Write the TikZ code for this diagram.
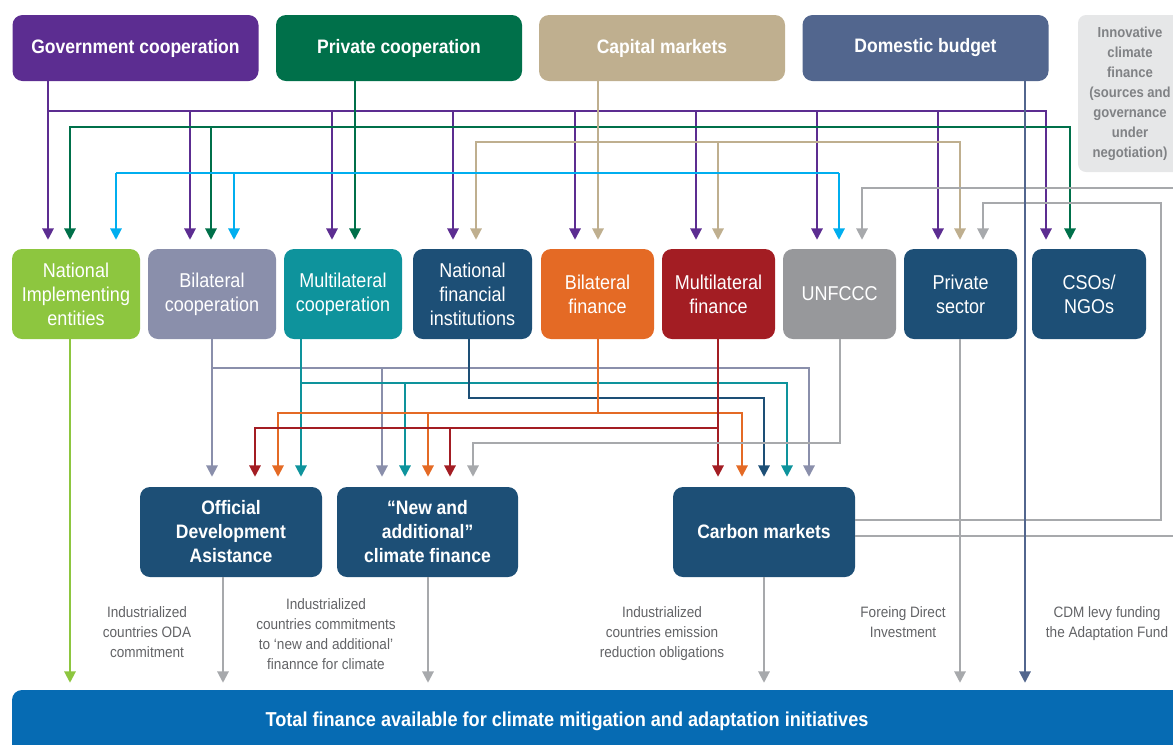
\documentclass[tikz,border=0pt]{standalone}
\usepackage{fontspec}
\setmainfont{Liberation Sans}[FakeStretch=0.9]
\usetikzlibrary{arrows.meta}
\definecolor{cPurp}{HTML}{5C2D91}
\definecolor{cGreen}{HTML}{00704A}
\definecolor{cTan}{HTML}{BFAF8F}
\definecolor{cSlate}{HTML}{52668E}
\definecolor{cInnF}{HTML}{E6E7E8}
\definecolor{cInnT}{HTML}{808285}
\definecolor{cLGreen}{HTML}{8DC63F}
\definecolor{cBGray}{HTML}{8A8FAB}
\definecolor{cTeal}{HTML}{0E939C}
\definecolor{cDBlue}{HTML}{1D4F76}
\definecolor{cOrange}{HTML}{E46A25}
\definecolor{cRed}{HTML}{A31D23}
\definecolor{cUn}{HTML}{97989B}
\definecolor{cGrayL}{HTML}{A7A9AC}
\definecolor{cCyan}{HTML}{00AEEF}
\definecolor{cBar}{HTML}{066BB3}
\definecolor{cLbl}{HTML}{626366}
\tikzset{
 bx/.style={rectangle, rounded corners=7.5pt, inner sep=0pt, text=white, align=center},
 hdr/.style={bx, minimum width=246*0.75pt, minimum height=66*0.75pt, font=\fontsize{14.6pt}{18pt}\selectfont\bfseries},
 midbox/.style={bx, minimum height=90*0.75pt, font=\fontsize{15pt}{18pt}\selectfont},
 lowbox/.style={bx, minimum width=182*0.75pt, minimum height=90*0.75pt, font=\fontsize{14.6pt}{18pt}\selectfont\bfseries},
 lbl/.style={text=cLbl, align=center, inner sep=0pt, font=\fontsize{11.3pt}{15pt}\selectfont},
 ln/.style={line width=1.5pt},
 arrowhd/.style={-{Triangle[width=8.5pt,length=8.5pt]}},
 ta/.style={ln,arrowhd,shorten >=6.75pt},
 ma/.style={ln,arrowhd,shorten >=7.5pt},
 ba/.style={ln,arrowhd,shorten >=5.25pt},
}
\begin{document}
\begin{tikzpicture}[x=0.75pt,y=-0.75pt]
\useasboundingbox (0,0) rectangle (1173,744);
% top row
\node[hdr, fill=cPurp] (gov) at (135.5,48) {Government cooperation};
\node[hdr, fill=cGreen] (pcoop) at (399,48) {Private cooperation};
\node[hdr, fill=cTan] (cap) at (662,48) {Capital markets};
\node[hdr, fill=cSlate] (dom) at (925.5,48) {Domestic budget};
\node[bx, fill=cInnF, text=cInnT, minimum width=104*0.75pt, minimum height=157*0.75pt, rounded corners=6pt, font=\fontsize{10.9pt}{15pt}\selectfont\bfseries] (innov) at (1130,93.5) {Innovative\\climate\\finance\\(sources and\\governance\\under\\negotiation)};
% middle row
\node[midbox, fill=cLGreen, minimum width=128*0.75pt] (nie) at (76,294) {National\\Implementing\\entities};
\node[midbox, fill=cBGray, minimum width=128*0.75pt] (bcoop) at (212,294) {Bilateral\\cooperation};
\node[midbox, fill=cTeal, minimum width=118*0.75pt] (mcoop) at (343,294) {Multilateral\\cooperation};
\node[midbox, fill=cDBlue, minimum width=119*0.75pt] (nfi) at (472.5,294) {National\\financial\\institutions};
\node[midbox, fill=cOrange, minimum width=113*0.75pt] (bfin) at (597.5,294) {Bilateral\\finance};
\node[midbox, fill=cRed, minimum width=113*0.75pt] (mfin) at (718.5,294) {Multilateral\\finance};
\node[midbox, fill=cUn, minimum width=113*0.75pt] (unfccc) at (839.5,294) {UNFCCC};
\node[midbox, fill=cDBlue, minimum width=113*0.75pt] (priv) at (960.5,294) {Private\\sector};
\node[midbox, fill=cDBlue, minimum width=114*0.75pt] (cso) at (1089,294) {CSOs/\\NGOs};
% lower row
\node[lowbox, fill=cDBlue] (oda) at (231,532) {Official\\Development\\Asistance};
\node[lowbox, fill=cDBlue, minimum width=181*0.75pt] (nac) at (427.5,532) {“New and\\additional”\\climate finance};
\node[lowbox, fill=cDBlue] (carbon) at (764,532) {Carbon markets};
% bar
\node[rectangle, rounded corners=7.5pt, fill=cBar, minimum width=1178*0.75pt, minimum height=70*0.75pt, inner sep=0pt] (bar) at (601,725) {};
\node[text=white, inner sep=0pt, font=\fontsize{15.1pt}{18pt}\selectfont\bfseries] (bartxt) at (567,721) {Total finance available for climate mitigation and adaptation initiatives};
% labels
\node[lbl] (l1) at (147,632) {Industrialized\\countries ODA\\commitment};
\node[lbl] (l2) at (326,634) {Industrialized\\countries commitments\\to ‘new and additional’\\finannce for climate};
\node[lbl] (l3) at (662,634) {Industrialized\\countries emission\\reduction obligations};
\node[lbl] (l4) at (903,622) {Foreing Direct\\Investment};
\node[lbl] (l5) at (1107,624) {CDM levy funding\\the Adaptation Fund};
% top connectors
\draw[ta,cPurp] (48,0 |- gov.south) -- (48,0 |- nie.north);
\foreach \x/\t in {190/bcoop,332/mcoop,453/nfi,575/bfin,696/mfin,817/unfccc,938/priv,1046/cso}
  \draw[ta,cPurp] (48,0 |- gov.south) |- (\x,111) -- (\x,0 |- \t.north);
\draw[ta,cGreen] (355,0 |- pcoop.south) -- (355,0 |- mcoop.north);
\foreach \x/\t in {70/nie,211/bcoop,1070/cso}
  \draw[ta,cGreen] (355,0 |- pcoop.south) |- (\x,127) -- (\x,0 |- \t.north);
\draw[ta,cTan] (598,0 |- cap.south) -- (598,0 |- bfin.north);
\foreach \x/\t in {476/nfi,718/mfin,960/priv}
  \draw[ta,cTan] (598,0 |- cap.south) |- (\x,142) -- (\x,0 |- \t.north);
\coordinate (cyA) at (116,173);
\coordinate (cyB) at (839,173);
\draw[ln,cCyan] (cyA) -- (cyB);
\draw[ta,cCyan] (cyA) -- (116,0 |- nie.north);
\draw[ta,cCyan] (234,0 |- cyA) -- (234,0 |- bcoop.north);
\draw[ta,cCyan] (cyB) -- (839,0 |- unfccc.north);
\coordinate (edgeA) at (1190,188);
\draw[ta,cGrayL] (edgeA) -| (862,0 |- unfccc.north);
\draw[ta,cGrayL] (carbon.east |- 0,520) -- (1161,520) |- (983,203) -- (983,0 |- priv.north);
\coordinate (edgeB) at (1190,536);
\draw[ln,cGrayL] (carbon.east |- 0,536) -- (edgeB);
\draw[ba,cSlate] (1025,0 |- dom.south) -- (1025,0 |- bar.north);
% middle connectors
\draw[ma,cBGray] (212,0 |- bcoop.south) -- (212,0 |- oda.north);
\foreach \x/\t in {382/nac,809/carbon}
  \draw[ma,cBGray] (212,0 |- bcoop.south) |- (\x,368) -- (\x,0 |- \t.north);
\draw[ma,cTeal] (301,0 |- mcoop.south) -- (301,0 |- oda.north);
\foreach \x/\t in {405/nac,787/carbon}
  \draw[ma,cTeal] (301,0 |- mcoop.south) |- (\x,383) -- (\x,0 |- \t.north);
\draw[ma,cDBlue] (469,0 |- nfi.south) |- (764,398) -- (764,0 |- carbon.north);
\foreach \x/\t in {278/oda,428/nac,742/carbon}
  \draw[ma,cOrange] (598,0 |- bfin.south) |- (\x,413) -- (\x,0 |- \t.north);
\draw[ma,cRed] (718,0 |- mfin.south) -- (718,0 |- carbon.north);
\foreach \x/\t in {255/oda,450/nac}
  \draw[ma,cRed] (718,0 |- mfin.south) |- (\x,428) -- (\x,0 |- \t.north);
\draw[ma,cGrayL] (840,0 |- unfccc.south) |- (473,443) -- (473,0 |- nac.north);
% bottom connectors
\draw[ba,cLGreen] (70,0 |- nie.south) -- (70,0 |- bar.north);
\foreach \x/\t in {223/oda,428/nac,764/carbon,960/priv}
  \draw[ba,cGrayL] (\x,0 |- \t.south) -- (\x,0 |- bar.north);
\end{tikzpicture}
\end{document}
